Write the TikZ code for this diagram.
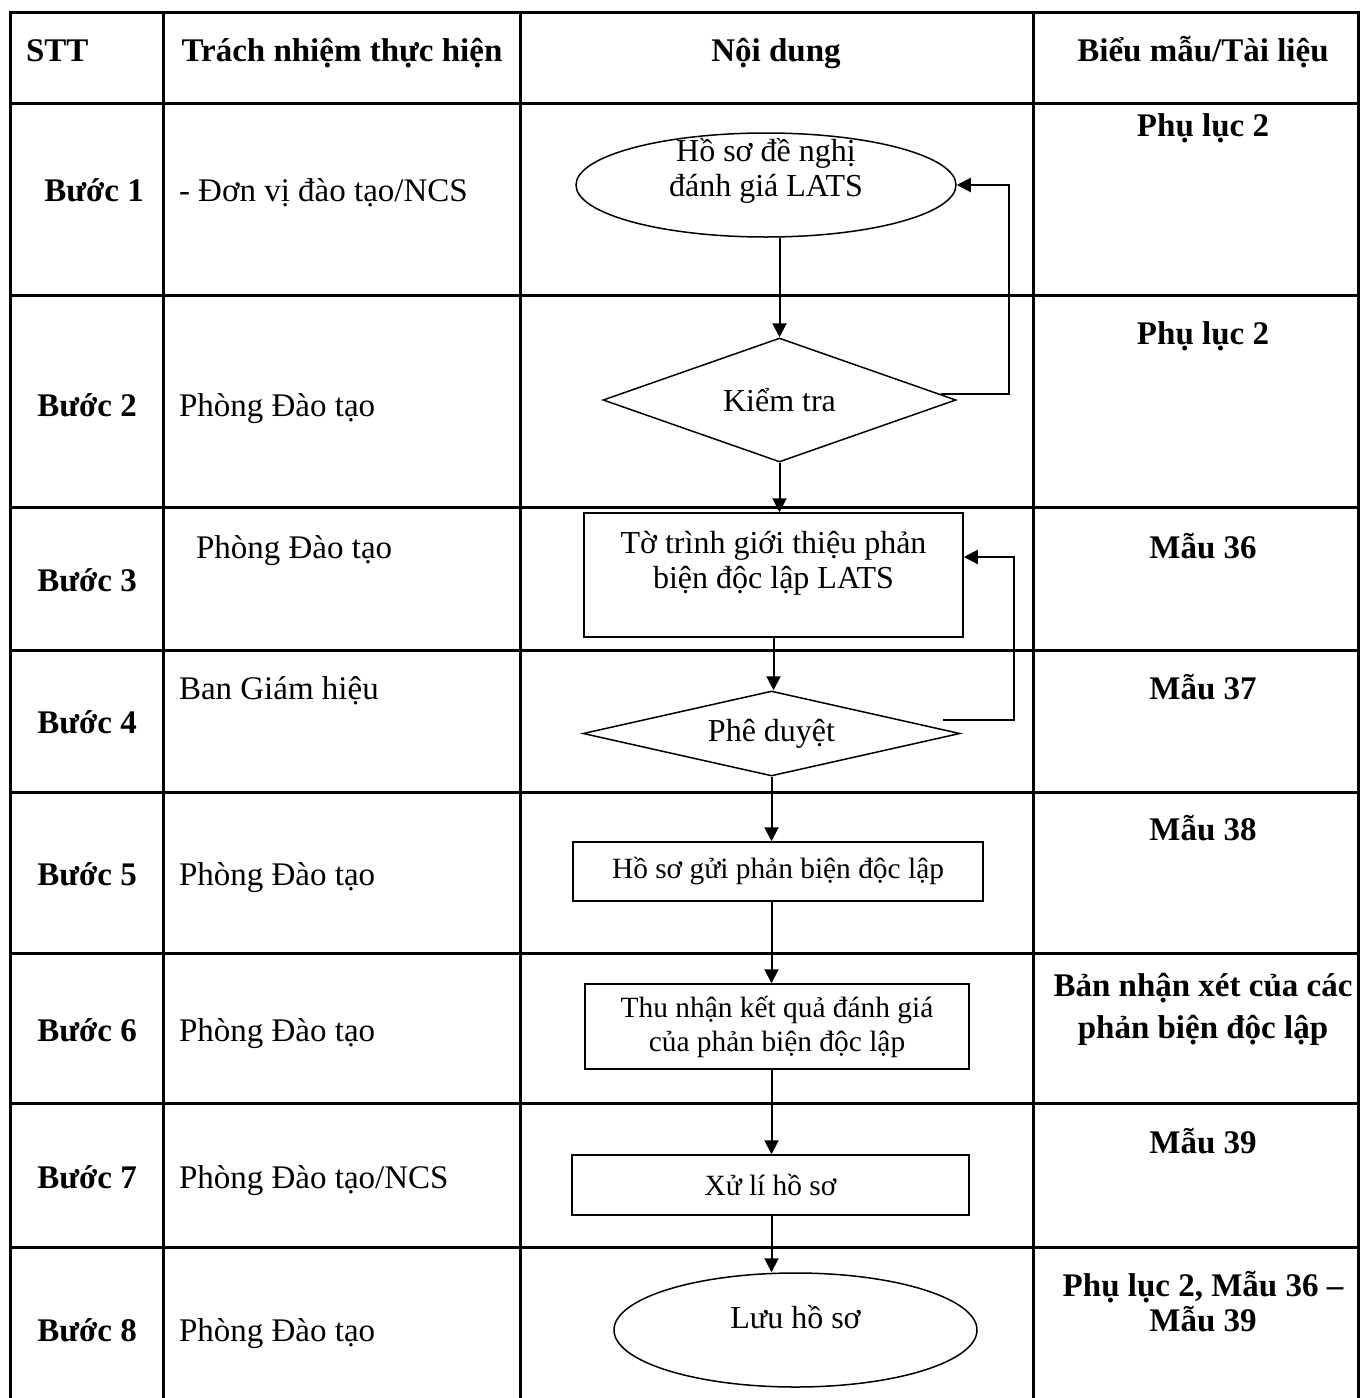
\documentclass[tikz,border=0pt]{standalone}
\usepackage{fontspec}
\setmainfont{Liberation Serif}
\usepackage{tikz}
\usetikzlibrary{arrows.meta}
\usetikzlibrary{shapes.geometric}

\newcommand{\cellfont}{\fontsize{16.5}{17.5}\selectfont}
\newcommand{\flowfont}{\fontsize{16}{17.5}\selectfont}
\newcommand{\smallflowfont}{\fontsize{14.7}{17}\selectfont}

\begin{document}
\begin{tikzpicture}[->,>={Triangle[length=7pt,width=7pt]},x=0.5pt,y=-0.5pt,
                    line width=1pt,
                    grid line/.style={-,line width=1.5pt,line cap=rect},
                    head cell/.style={font=\cellfont\bfseries,inner sep=0pt,anchor=base},
                    step cell/.style={font=\cellfont\bfseries,inner sep=0pt,anchor=base},
                    who cell/.style={font=\cellfont,inner sep=0pt,anchor=base west},
                    form cell/.style={font=\cellfont\bfseries,inner sep=0pt,align=center,anchor=base},
                    flow box/.style={rectangle,draw,line width=0.75pt,inner sep=0pt,font=\smallflowfont,align=center},
                    flow ellipse/.style={ellipse,draw,line width=0.75pt,inner sep=0pt,font=\flowfont,align=center},
                    flow diamond/.style={diamond,draw,line width=0.75pt,inner sep=0pt,shape aspect=4,font=\flowfont}]

  \useasboundingbox (0,0) rectangle (1362,1398);

  % table
  \foreach \y in {12,103,295,507,650,792,953,1103,1247}
    \draw[grid line] (10,\y) -- (1358,\y);
  \foreach \x in {10,163,520,1033,1358}
    \draw[grid line] (\x,12) -- (\x,1398);

  \node[head cell,anchor=base west] (stt) at (25,61) {STT};
  \node[head cell] (trachnhiem) at (342,61) {Trách nhiệm thực hiện};
  \node[head cell] (noidung) at (776,61) {Nội dung};
  \node[head cell] (bieumau) at (1203,61) {Biểu mẫu/Tài liệu};

  \node[step cell] (b1) at (94,201) {Bước 1};
  \node[step cell] (b2) at (87,416) {Bước 2};
  \node[step cell] (b3) at (87,591) {Bước 3};
  \node[step cell] (b4) at (87,733) {Bước 4};
  \node[step cell] (b5) at (87,885) {Bước 5};
  \node[step cell] (b6) at (87,1041) {Bước 6};
  \node[step cell] (b7) at (87,1188) {Bước 7};
  \node[step cell] (b8) at (87,1341) {Bước 8};

  \node[who cell] (w1) at (178,201) {- Đơn vị đào tạo/NCS};
  \node[who cell] (w2) at (178,416) {Phòng Đào tạo};
  \node[who cell] (w3) at (195,558) {Phòng Đào tạo};
  \node[who cell] (w4) at (178,699) {Ban Giám hiệu};
  \node[who cell] (w5) at (178,885) {Phòng Đào tạo};
  \node[who cell] (w6) at (178,1041) {Phòng Đào tạo};
  \node[who cell] (w7) at (178,1188) {Phòng Đào tạo/NCS};
  \node[who cell] (w8) at (178,1341) {Phòng Đào tạo};

  \node[form cell] (f1) at (1203,136) {Phụ lục 2};
  \node[form cell] (f2) at (1203,344) {Phụ lục 2};
  \node[form cell] (f3) at (1203,558) {Mẫu 36};
  \node[form cell] (f4) at (1203,699) {Mẫu 37};
  \node[form cell] (f5) at (1203,840) {Mẫu 38};
  \node[form cell,anchor=center] (f6) at (1203,1009) {Bản nhận xét của các\\[3.5pt]phản biện độc lập};
  \node[form cell] (f7) at (1203,1153) {Mẫu 39};
  \node[form cell,anchor=center] (f8) at (1203,1302) {Phụ lục 2, Mẫu 36 –\\Mẫu 39};

  % flow
  \node[flow ellipse,minimum width=190pt,minimum height=52pt,
        label={[font=\flowfont,align=center,yshift=7.25pt]center:{Hồ sơ đề nghị\\đánh giá LATS}}] (hoso) at (766,185) {};
  \node[flow diamond,minimum width=176.5pt,minimum height=62pt] (kiemtra) at (779.5,400) {Kiểm tra};
  \node[flow box,minimum width=189.5pt,minimum height=62pt,
        label={[font=\flowfont,align=center,yshift=5.75pt]center:{Tờ trình giới thiệu phản\\biện độc lập LATS}}] (totrinh) at (773.5,575) {};
  \node[flow diamond,minimum width=188.5pt,minimum height=42.5pt] (pheduyet) at (771.5,733.5) {Phê duyệt};
  \node[flow box,minimum width=205pt,minimum height=29.5pt] (guipb) at (778,871.5) {Hồ sơ gửi phản biện độc lập};
  \node[flow box,minimum width=192pt,minimum height=42.5pt] (thunhan) at (777,1026.5) {Thu nhận kết quả đánh giá\\của phản biện độc lập};
  \node[flow box,minimum width=198.5pt,minimum height=30pt] (xuli) at (770.5,1185) {Xử lí hồ sơ};
  \node[flow ellipse,minimum width=181.5pt,minimum height=57pt,
        label={[font=\flowfont,yshift=6.5pt]center:Lưu hồ sơ}] (luu) at (795.5,1330) {};

  \draw (hoso.south -| kiemtra.north) -- (kiemtra.north);
  \draw (kiemtra.south) -- (kiemtra.south |- totrinh.north);
  \draw (totrinh.south) -- (totrinh.south |- pheduyet.north);
  \draw (pheduyet.south) -- (pheduyet.south |- guipb.north);
  \draw (guipb.south -| pheduyet.south) -- (thunhan.north -| pheduyet.south);
  \draw (thunhan.south -| pheduyet.south) -- (xuli.north -| pheduyet.south);
  \draw (xuli.south -| pheduyet.south) -- (luu.north -| pheduyet.south);

  \draw ([shift={(-8pt,3pt)}]kiemtra.east) -- ++(34pt,0pt) |- (hoso.east);
  \draw ([shift={(-9pt,7pt)}]pheduyet.east) -- ++(35.5pt,0pt) |- ([yshift=9pt]totrinh.east);
\end{tikzpicture}
\end{document}
